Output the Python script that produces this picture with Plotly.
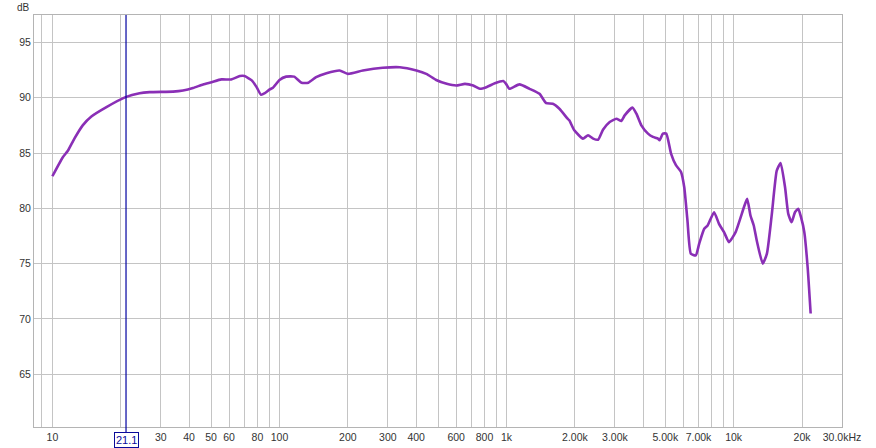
import plotly.graph_objects as go
import math

freq_hz = [10, 11.1, 11.7, 12.5, 13.6, 14.85, 17.3, 21.0, 24.2, 26.8, 34, 37.6, 41.6, 46.1, 50.2,
           55.5, 61.3, 66.9, 70.2, 75.5, 79.3, 82.9, 86.2, 90.6, 93.6, 100, 107, 116, 125, 134,
           145, 161, 184, 200, 233, 285, 339, 401, 443, 490, 545, 600, 656, 713, 763, 815, 888,
           967, 995, 1030, 1140, 1263, 1397, 1494, 1597, 1709, 1857, 1889, 1987, 2170, 2284,
           2406, 2529, 2658, 2846, 3046, 3203, 3312, 3583, 3730, 3922, 4196, 4412, 4640, 4720,
           4880, 5050, 5300, 5570, 5860, 6060, 6260, 6480, 6810, 7050, 7420, 7680, 8200, 8620,
           9070, 9540, 10200, 11100, 11470, 11860, 12260, 12680, 13430, 14010, 14730, 15480,
           16100, 16840, 17400, 18000, 18630, 19260, 19800, 20470, 21170, 21830]
spl_db = [82.9, 84.6, 85.2, 86.3, 87.5, 88.3, 89.15, 90.05, 90.4, 90.5, 90.55, 90.65, 90.87, 91.2, 91.4,
          91.65, 91.65, 91.95, 91.95, 91.56, 90.95, 90.27, 90.4, 90.75, 90.9, 91.6, 91.9, 91.9, 91.35, 91.35,
          91.85, 92.2, 92.45, 92.15, 92.45, 92.7, 92.75, 92.45, 92.15, 91.6, 91.25, 91.1, 91.25, 91.1, 90.8, 90.95, 91.3,
          91.5, 91.25, 90.8, 91.2, 90.8, 90.35, 89.5, 89.45, 89.0, 88.1, 87.95, 87.05, 86.3, 86.6,
          86.3, 86.2, 87.1, 87.8, 88.1, 87.9, 88.4, 89.1, 88.55, 87.5, 86.75, 86.45, 86.3, 86.15,
          86.75, 86.75, 84.95, 83.9, 83.3, 81.9, 78.9, 75.9, 75.75, 76.8, 78.15, 78.45, 79.65, 78.6,
          77.85, 76.95, 77.85, 80.1, 80.85, 79.35, 78.45, 76.95, 75.0, 75.9, 79.5, 83.4,
          84.1, 81.9, 79.5, 78.75, 79.65, 79.95, 79.2, 77.85, 74.7, 70.5]

grid_freqs = [9, 10, 20, 30, 40, 50, 60, 70, 80, 90, 100, 200, 300, 400, 500, 600, 700, 800, 900,
              1000, 2000, 3000, 4000, 5000, 6000, 7000, 8000, 9000, 10000, 20000, 30000]
x_labels = {10: "10", 30: "30", 40: "40", 50: "50", 60: "60", 80: "80", 100: "100", 200: "200",
            300: "300", 400: "400", 600: "600", 800: "800", 1000: "1k", 2000: "2.00k",
            3000: "3.00k", 5000: "5.00k", 7000: "7.00k", 10000: "10k", 20000: "20k",
            30000: "30.0kHz"}
y_ticks = [65, 70, 75, 80, 85, 90, 95]
cursor_hz = 21.1
cursor_label = "21.1"

FONT = "Liberation Sans, Arial, sans-serif"

fig = go.Figure()
fig.add_trace(go.Scatter(x=freq_hz, y=spl_db, mode="lines",
                         line=dict(color="#8a2fb6", width=2.6, shape="spline", smoothing=0.5),
                         hoverinfo="skip", showlegend=False))

fig.add_shape(type="line", xref="x", yref="paper", x0=cursor_hz, x1=cursor_hz, y0=-0.012, y1=1,
              line=dict(color="#0000a0", width=1.2))
fig.add_annotation(x=math.log10(cursor_hz), xref="x", y=-0.012, yref="paper", yanchor="top",
                   text=cursor_label, showarrow=False, bordercolor="#0a0a9a", borderwidth=1,
                   borderpad=1, bgcolor="white",
                   font=dict(family=FONT, size=11, color="#0a0a9a"))
fig.add_annotation(x=0, xref="paper", y=1, yref="paper", xanchor="right", yanchor="bottom",
                   xshift=-2, yshift=0, text="dB", showarrow=False,
                   font=dict(family=FONT, size=10, color="#333333"))

fig.update_xaxes(type="log", range=[math.log10(8.3), math.log10(30000)],
                 tickvals=grid_freqs, ticktext=[x_labels.get(f, "") for f in grid_freqs],
                 showgrid=True, gridcolor="#c4c4c4", gridwidth=1,
                 showline=True, linecolor="#b4b4b4", linewidth=1, mirror=True,
                 ticks="", tickfont=dict(family=FONT, size=10.5, color="#333333"),
                 zeroline=False, automargin=False)
fig.update_yaxes(range=[60.24, 97.47], tickvals=y_ticks, ticktext=[str(v) for v in y_ticks],
                 showgrid=True, gridcolor="#c4c4c4", gridwidth=1,
                 showline=True, linecolor="#b4b4b4", linewidth=1, mirror=True,
                 ticks="", tickfont=dict(family=FONT, size=10.5, color="#333333"),
                 zeroline=False, automargin=False)
fig.update_layout(width=876, height=448, margin=dict(l=34, r=34, t=15, b=21, autoexpand=False),
                  plot_bgcolor="white", paper_bgcolor="white")
fig.write_html("out.html", config={"displayModeBar": False},
               post_script="document.body.style.margin='0';document.body.style.overflow='hidden';")
